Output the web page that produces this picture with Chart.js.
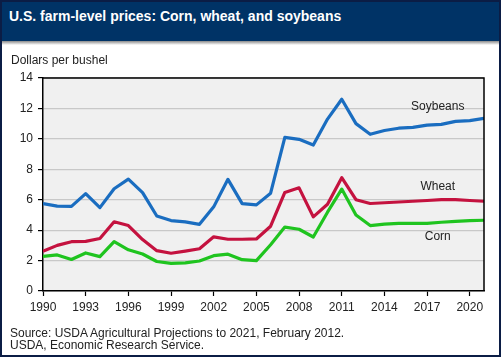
<!DOCTYPE html>
<html>
<head>
<meta charset="utf-8">
<script src="https://cdn.jsdelivr.net/npm/chart.js@4"></script>
<style>
  html, body { margin: 0; padding: 0; background: #fff; }
  #wrap { position: relative; width: 501px; height: 357px; overflow: hidden; font-family: "Liberation Sans", Arial, sans-serif; }
  #bar { position: absolute; left: 0; top: 0; width: 501px; height: 41px; background: #003366; }
  #shadow { position: absolute; left: 0; top: 41px; width: 501px; height: 4px; background: linear-gradient(#8a8a8a, #ffffff); }
  #title { position: absolute; left: 9px; top: 7px; color: #fff; font-weight: bold; font-size: 14px; line-height: 18px; white-space: nowrap; }
  #unit { position: absolute; left: 11px; top: 52px; color: #222; font-size: 12px; line-height: 16px; white-space: nowrap; }
  #source { position: absolute; left: 10px; top: 327px; color: #222; font-size: 12px; line-height: 12px; white-space: nowrap; }
  #c { position: absolute; left: 0; top: 0; }
  #frame { position: absolute; left: 0; top: 0; width: 501px; height: 357px; box-sizing: border-box; border: 2px solid #0b1d45; pointer-events: none; }
</style>
</head>
<body>
<div id="wrap">
  <canvas id="c" width="501" height="357"></canvas>
  <div id="bar"></div>
  <div id="shadow"></div>
  <div id="title">U.S. farm-level prices: Corn, wheat, and soybeans</div>
  <div id="unit">Dollars per bushel</div>
  <div id="source">Source: USDA Agricultural Projections to 2021, February 2012.<br>USDA, Economic Research Service.</div>
  <div id="frame"></div>
</div>
<script>
const years = [1990,1991,1992,1993,1994,1995,1996,1997,1998,1999,2000,2001,2002,2003,2004,2005,2006,2007,2008,2009,2010,2011,2012,2013,2014,2015,2016,2017,2018,2019,2020,2021];
const soybeans = [5.74,5.58,5.56,6.40,5.48,6.72,7.35,6.47,4.93,4.63,4.54,4.38,5.53,7.34,5.74,5.66,6.43,10.10,9.97,9.59,11.30,12.60,11.00,10.30,10.55,10.70,10.75,10.90,10.95,11.15,11.20,11.35];
const wheat = [2.61,3.00,3.24,3.26,3.45,4.55,4.30,3.38,2.65,2.48,2.62,2.78,3.56,3.40,3.40,3.42,4.26,6.48,6.78,4.87,5.70,7.45,6.00,5.75,5.80,5.85,5.90,5.95,6.00,6.00,5.95,5.90];
const corn = [2.28,2.37,2.07,2.50,2.26,3.24,2.71,2.43,1.94,1.82,1.85,1.97,2.32,2.42,2.06,2.00,3.04,4.20,4.06,3.55,5.18,6.70,5.00,4.30,4.40,4.45,4.45,4.45,4.52,4.58,4.63,4.65];
const seriesNames = ['Soybeans','Wheat','Corn'];
const xTicks = [1990,1993,1996,1999,2002,2005,2008,2011,2014,2017,2020];
const yTicks = [0,2,4,6,8,10,12,14];

const toPts = arr => arr.map((v, i) => ({x: years[i], y: v}));
const colors = ['#1a6dc0', '#c4123f', '#1fc41f'];
const labelPos = [[2017.75, 12.12], [2017.75, 6.87], [2017.75, 3.6]];

const bgPlugin = {
  id: 'bg',
  beforeDraw(chart) {
    const {ctx, chartArea: a} = chart;
    ctx.save();
    ctx.fillStyle = '#f0f0f0';
    ctx.fillRect(a.left, a.top, a.right - a.left, a.bottom - a.top);
    ctx.restore();
  },
  afterDatasetsDraw(chart) {
    const {ctx, chartArea: a, scales} = chart;
    ctx.save();
    ctx.font = '12px "Liberation Sans", Arial, sans-serif';
    ctx.fillStyle = '#222';
    ctx.textAlign = 'center';
    ctx.textBaseline = 'middle';
    seriesNames.forEach((n, i) => {
      ctx.fillText(n, scales.x.getPixelForValue(labelPos[i][0]), scales.y.getPixelForValue(labelPos[i][1]));
    });
    ctx.strokeStyle = '#000';
    ctx.lineWidth = 1.5;
    ctx.beginPath();
    ctx.moveTo(a.left, a.top);
    ctx.lineTo(a.right, a.top);
    ctx.lineTo(a.right, a.bottom);
    ctx.stroke();
    ctx.restore();
  }
};

new Chart(document.getElementById('c'), {
  type: 'line',
  data: {
    datasets: [soybeans, wheat, corn].map((d, i) => ({
      label: seriesNames[i],
      data: toPts(d),
      borderColor: colors[i],
      borderWidth: 3.2,
      pointRadius: 0,
      tension: 0,
      fill: false,
      borderJoinStyle: 'round',
      borderCapStyle: 'butt'
    }))
  },
  options: {
    responsive: false,
    animation: false,
    devicePixelRatio: 1,
    layout: { padding: { top: 78, right: 17, left: 0, bottom: 0 } },
    plugins: { legend: { display: false }, tooltip: { enabled: false }, title: { display: false } },
    scales: {
      x: {
        type: 'linear',
        min: 1990, max: 2021,
        afterBuildTicks: s => { s.ticks = xTicks.map(v => ({value: v})); },
        afterFit: s => { s.height = 66; },
        ticks: { color: '#222', font: { size: 12, family: '"Liberation Sans", Arial, sans-serif' }, padding: 4, maxRotation: 0, autoSkip: false, callback: v => String(v) },
        grid: { drawOnChartArea: false, drawTicks: true, tickLength: 5, tickColor: '#000', tickWidth: 1.2 },
        border: { display: true, color: '#000', width: 1.5 }
      },
      y: {
        min: 0, max: 14,
        afterBuildTicks: s => { s.ticks = yTicks.map(v => ({value: v})); },
        afterFit: s => { s.width = 43; },
        ticks: { color: '#222', font: { size: 12, family: '"Liberation Sans", Arial, sans-serif' }, padding: 5 },
        grid: { color: '#c8c8c8', lineWidth: 1.2, tickLength: 5, tickColor: '#000', tickWidth: 1.2 },
        border: { display: true, color: '#000', width: 1.5 }
      }
    }
  },
  plugins: [bgPlugin]
});
</script>
</body>
</html>
